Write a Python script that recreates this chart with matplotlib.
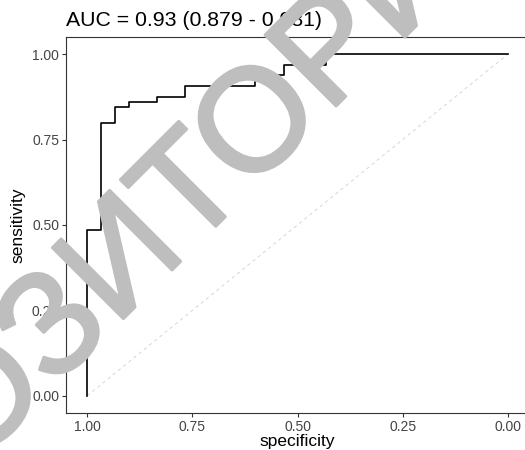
import matplotlib
matplotlib.use("Agg")
import matplotlib.pyplot as plt
import matplotlib.patheffects as pe

plt.rcParams['font.family'] = ['Liberation Sans', 'DejaVu Sans']

# ROC curve (steps)
specificity = [1.0, 1.0, 0.967, 0.967, 0.933, 0.933, 0.900, 0.900, 0.833, 0.833,
               0.767, 0.767, 0.600, 0.600, 0.567, 0.567, 0.533, 0.533, 0.433, 0.433, 0.0]
sensitivity = [0.0, 0.484, 0.484, 0.797, 0.797, 0.844, 0.844, 0.859, 0.859, 0.875,
               0.875, 0.906, 0.906, 0.922, 0.922, 0.9375, 0.9375, 0.969, 0.969, 1.0, 1.0]
diag = [1.0, 0.0]
ticks = [1.00, 0.75, 0.50, 0.25, 0.00]
tick_labels = ['1.00', '0.75', '0.50', '0.25', '0.00']
title = 'AUC = 0.93 (0.879 - 0.981)'
watermark = 'РЕПОЗИТОРИЙ'

fig = plt.figure(figsize=(5.25, 4.5), dpi=100)
ax = fig.add_axes([66/525, 1 - 413/450, 463/525, 376/450])
ax.set_facecolor('white')

ax.plot(diag, [0.0, 1.0], color='#d0d0d0', lw=0.6, ls=(0, (4, 4)))
ax.plot(specificity, sensitivity, color='black', lw=1.2)

ax.set_xlim(1.05, -0.05)
ax.set_ylim(-0.05, 1.05)
ax.set_xticks(ticks)
ax.set_xticklabels(tick_labels)
ax.set_yticks(ticks)
ax.set_yticklabels(tick_labels)
ax.tick_params(length=3, width=0.8, color='#333333', labelcolor='#444444',
               labelsize=10, pad=2)
for s in ax.spines.values():
    s.set_color('#333333')
    s.set_linewidth(0.8)

ax.set_xlabel('specificity', fontsize=12.5, labelpad=0)
ax.set_ylabel('sensitivity', fontsize=12.5, labelpad=5)
ax.set_title(title, loc='left', fontsize=15.3, pad=8)

# scanned-page watermark
fig.text(153/525, 1 - 289/450, watermark, fontsize=105, color='#bebebe',
         rotation=45, rotation_mode='anchor', ha='center', va='baseline', zorder=10,
         path_effects=[pe.Stroke(linewidth=2.2, foreground='#bebebe'), pe.Normal()])

fig.savefig('out.png', dpi=100)
